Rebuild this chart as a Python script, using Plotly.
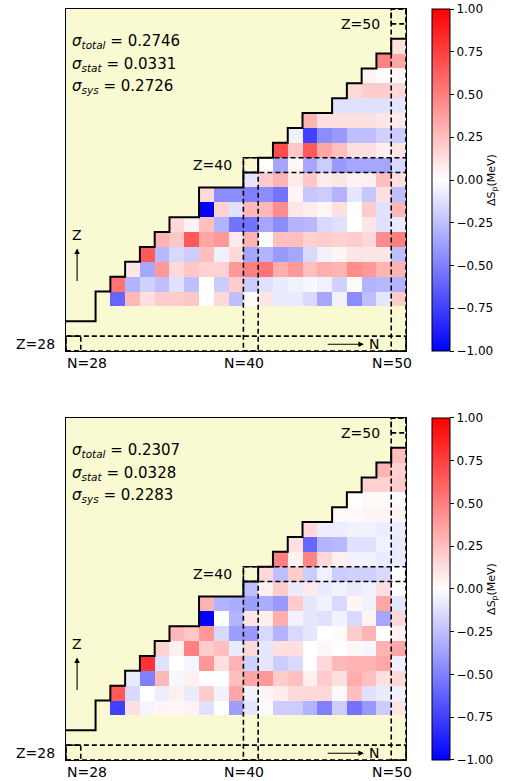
import plotly.graph_objects as go

# nuclear chart region
n_values = list(range(28, 51))
z_values = list(range(28, 51))
magic = [28, 40, 50]

# highest Z drawn on the boundary line for each N (N=28..50)
drip_max_z = [29, 29, 31, 32, 33, 34, 35, 36, 36, 38, 38, 38, 39, 40, 41, 42, 43, 43, 44, 45, 46, 47, 48]

# rows of data: Z value and the first N that has a value
row_z = [31, 32, 33, 34, 35, 36, 37, 38, 39, 40, 41, 42, 43, 44, 45, 46, 47, 48]
row_first_n = [31, 31, 32, 33, 34, 35, 37, 37, 40, 41, 42, 43, 44, 46, 47, 48, 49, 50]

# Delta S_p (MeV), upper panel, one list per Z row (from first N up to N=50)
dsp_upper = [
    [-0.6, 0.28, 0.12, 0.2, 0.2, 0.22, 0.0, 0.15, -0.25, 0.02, 0.1, -0.08, -0.08, -0.15, -0.35, -0.05, -0.45, -0.25, -0.1, 0.2],
    [0.55, -0.3, -0.18, -0.25, -0.12, -0.25, 0.0, -0.2, 0.2, -0.2, -0.12, -0.08, -0.05, -0.03, -0.06, -0.18, 0.02, -0.3, -0.28, -0.3],
    [0.1, -0.35, 0.4, 0.15, 0.22, 0.18, 0.18, 0.4, 0.5, 0.55, 0.32, 0.4, 0.25, 0.32, 0.3, 0.45, 0.4, 0.3, 0.3],
    [0.65, -0.28, -0.15, -0.2, 0.25, -0.06, 0.15, -0.35, -0.3, -0.4, -0.35, -0.15, -0.06, 0.04, 0.1, 0.1, 0.1, -0.25],
    [0.3, 0.22, 0.65, 0.35, 0.4, 0.08, 0.3, 0.02, 0.25, 0.25, 0.18, 0.2, 0.18, 0.2, 0.15, 0.45, 0.5],
    [0.15, 0.05, 0.25, -0.3, -0.55, -0.55, -0.35, -0.45, -0.3, -0.28, -0.15, -0.12, 0.0, 0.1, -0.12, -0.08],
    [-1.0, 0.18, -0.12, 0.28, 0.28, 0.45, 0.1, 0.07, 0.03, 0.12, 0.0, 0.2, -0.12, 0.28],
    [0.15, -0.45, -0.45, -0.5, -0.45, -0.55, 0.04, -0.22, -0.2, -0.3, -0.1, -0.22, 0.12, -0.25],
    [-0.1, 0.2, 0.3, 0.08, 0.22, 0.08, 0.1, 0.05, 0.06, 0.25, 0.12],
    [0.0, -0.35, 0.03, -0.35, -0.2, -0.4, -0.35, -0.35, -0.35, -0.15],
    [0.7, 0.22, 0.65, 0.35, 0.25, 0.12, 0.12, 0.06, 0.1],
    [-0.06, -0.75, -0.45, -0.4, -0.25, -0.25, -0.18, -0.2],
    [0.3, 0.12, 0.12, 0.12, 0.12, 0.1, 0.08],
    [-0.12, -0.12, -0.12, -0.12, -0.1],
    [0.15, 0.2, 0.2, 0.15],
    [0.05, 0.0, 0.03],
    [0.5, 0.35],
    [0.12],
]

# Delta S_p (MeV), lower panel
dsp_lower = [
    [-0.75, 0.12, -0.04, 0.04, 0.03, 0.05, -0.12, 0.0, -0.38, -0.1, -0.02, -0.2, -0.2, -0.3, -0.5, -0.2, -0.55, -0.4, -0.2, 0.1],
    [0.65, -0.15, 0.0, -0.07, 0.06, -0.08, 0.2, -0.05, 0.35, -0.05, 0.04, 0.08, 0.15, 0.15, 0.15, 0.02, 0.25, -0.12, -0.08, -0.05],
    [-0.08, -0.5, 0.28, -0.03, 0.06, 0.0, 0.0, 0.25, 0.35, 0.4, 0.2, 0.25, 0.06, 0.2, 0.12, 0.32, 0.25, 0.12, 0.15],
    [0.8, -0.12, 0.0, -0.04, 0.4, 0.12, 0.3, -0.18, -0.1, -0.2, -0.15, 0.0, 0.15, 0.28, 0.3, 0.3, 0.35, -0.06],
    [0.18, 0.06, 0.5, 0.2, 0.25, -0.08, 0.15, -0.1, 0.12, 0.12, 0.0, 0.03, 0.0, 0.03, -0.03, 0.3, 0.35],
    [0.28, 0.22, 0.4, -0.15, -0.38, -0.4, -0.15, -0.3, -0.15, -0.1, 0.0, 0.02, 0.2, 0.3, 0.0, 0.05],
    [-1.0, 0.0, -0.3, 0.1, 0.06, 0.32, -0.05, -0.1, -0.12, -0.05, -0.15, 0.05, -0.35, 0.15],
    [0.3, -0.3, -0.32, -0.38, -0.32, -0.4, 0.2, -0.1, -0.05, -0.15, 0.04, -0.05, 0.35, -0.1],
    [-0.25, 0.06, 0.2, -0.08, 0.08, -0.08, -0.05, -0.08, -0.06, 0.12, 0.0],
    [0.15, -0.25, 0.2, -0.2, -0.06, -0.2, -0.18, -0.18, -0.15, 0.0],
    [0.5, 0.05, 0.48, 0.15, 0.06, -0.05, -0.05, -0.08, -0.08],
    [0.12, -0.6, -0.3, -0.28, -0.12, -0.12, -0.05, -0.08],
    [0.15, -0.07, -0.07, -0.05, -0.05, -0.07, -0.07],
    [0.02, 0.02, 0.04, 0.04, 0.05],
    [0.0, 0.02, 0.02, -0.02],
    [0.18, 0.18, 0.2],
    [0.3, 0.18],
    [0.25],
]

sigma_upper = [0.2746, 0.0331, 0.2726]
sigma_lower = [0.2307, 0.0328, 0.2283]
sigma_names = ['total', 'stat', 'sys']

cbar_ticks = [-1.0, -0.75, -0.5, -0.25, 0.0, 0.25, 0.5, 0.75, 1.0]

FONT = 'DejaVu Sans'
BWR = [[0.0, 'rgb(0,0,255)'], [0.5, 'rgb(255,255,255)'], [1.0, 'rgb(255,0,0)']]
LO, SPAN = 27.5, 23.0  # axis start and width in cell units


def build_grid(rows):
    grid = [[None] * len(n_values) for _ in z_values]
    for z, n0, vals in zip(row_z, row_first_n, rows):
        for k, v in enumerate(vals):
            grid[z - z_values[0]][n0 + k - n_values[0]] = v
    return grid


def dom(v):
    # data coordinate -> axis domain fraction (so labels outside the range still show)
    return (v - LO) / SPAN


fig = go.Figure()

panels = [('x', 'y', dsp_upper, sigma_upper, 1.0),
          ('x2', 'y2', dsp_lower, sigma_lower, 0.4554)]

stair_x, stair_y = [], []
for n, zmax in zip(n_values, drip_max_z):
    stair_x += [n - 0.5, n + 0.5]
    stair_y += [zmax + 0.5, zmax + 0.5]

for xr, yr, rows, sig, cb_top in panels:
    fig.add_trace(go.Heatmap(
        x=n_values, y=z_values, z=build_grid(rows), xaxis=xr, yaxis=yr,
        colorscale=BWR, zmin=-1, zmax=1, hoverongaps=False,
        colorbar=dict(x=1.0765, xanchor='left', y=cb_top, yanchor='top', len=0.4554,
                      thickness=18, xpad=0, ypad=0, outlinewidth=1, outlinecolor='black',
                      tickvals=cbar_ticks, ticktext=[f'{t:.2f}'.replace('-', '\u2212') for t in cbar_ticks],
                      ticks='outside', ticklen=4, tickcolor='black',
                      tickfont=dict(family=FONT, size=12, color='black'),
                      title=dict(text='\u0394S<sub>p</sub>(MeV)', side='right',
                                 font=dict(family=FONT, size=11, color='black'))),
    ))
    fig.add_trace(go.Scatter(x=stair_x, y=stair_y, xaxis=xr, yaxis=yr, mode='lines',
                             line=dict(color='black', width=2), hoverinfo='skip', showlegend=False))

    for m in magic:
        # column box N=m from Z=28 up to Z=m, row box Z=m from N=m to N=50
        fig.add_shape(type='rect', xref=xr, yref=yr, x0=m - 0.5, x1=m + 0.5,
                      y0=z_values[0] - 0.5, y1=m + 0.5,
                      line=dict(color='black', width=1.6, dash='5px,3px'))
        fig.add_shape(type='rect', xref=xr, yref=yr, x0=m - 0.5, x1=n_values[-1] + 0.5,
                      y0=m - 0.5, y1=m + 0.5,
                      line=dict(color='black', width=1.6, dash='5px,3px'))

    xd, yd = xr + ' domain', yr + ' domain'
    tf = dict(family=FONT, size=14, color='black')
    for i, (name, val) in enumerate(zip(sigma_names, sig)):
        fig.add_annotation(xref=xd, yref=yd, x=0.012, y=0.905 - 0.066 * i,
                           xanchor='left', yanchor='middle', showarrow=False,
                           font=dict(family=FONT, size=15, color='black'),
                           text=f'<i>\u03c3</i><sub><i>{name}</i></sub> = {val:.4f}')
    for m, zy in zip(magic, [28, 40, 49.5]):
        fig.add_annotation(xref=xd, yref=yd, x=dom(m - 4.05), y=dom(zy), xanchor='left', yanchor='middle',
                           showarrow=False, font=tf, text=f'Z={m}')
    for m, nx in zip(magic, [27.45, 38.05, 48.07]):
        fig.add_annotation(xref=xd, yref=yd, x=dom(nx), y=0, xanchor='left', yanchor='top',
                           yshift=-2, showarrow=False, font=tf, text=f'N={m}')
    # axis direction arrows
    fig.add_annotation(xref=xr, yref=yr, axref=xr, ayref=yr, x=28.25, y=34.4, ax=28.25, ay=32.1,
                       text='', showarrow=True, arrowhead=2, arrowsize=1, arrowwidth=1.1, arrowcolor='black')
    fig.add_annotation(xref=xr, yref=yr, x=28.25, y=35.3, text='Z', showarrow=False, font=tf)
    fig.add_annotation(xref=xr, yref=yr, axref=xr, ayref=yr, x=47.65, y=27.95, ax=45.1, ay=27.95,
                       text='', showarrow=True, arrowhead=2, arrowsize=1, arrowwidth=1.1, arrowcolor='black')
    fig.add_annotation(xref=xr, yref=yr, x=48.35, y=28.0, text='N', showarrow=False, font=tf)

ax_style = dict(range=[LO, LO + SPAN], showgrid=False, zeroline=False, showticklabels=False, ticks='',
                showline=True, mirror=True, linecolor='black', linewidth=1)
fig.update_layout(
    width=517, height=781, margin=dict(l=66, r=111, t=9, b=21),
    plot_bgcolor='lightgoldenrodyellow', paper_bgcolor='white',
    font=dict(family=FONT, color='black'),
    xaxis=dict(domain=[0, 1], anchor='y', **ax_style),
    yaxis=dict(domain=[0.5446, 1], anchor='x', **ax_style),
    xaxis2=dict(domain=[0, 1], anchor='y2', **ax_style),
    yaxis2=dict(domain=[0, 0.4554], anchor='x2', **ax_style),
)

# drop the page's default body margin so the figure sits at the window corner
fig.write_html('out.html', config={'displayModeBar': False},
               post_script="document.body.style.margin = '0';")
